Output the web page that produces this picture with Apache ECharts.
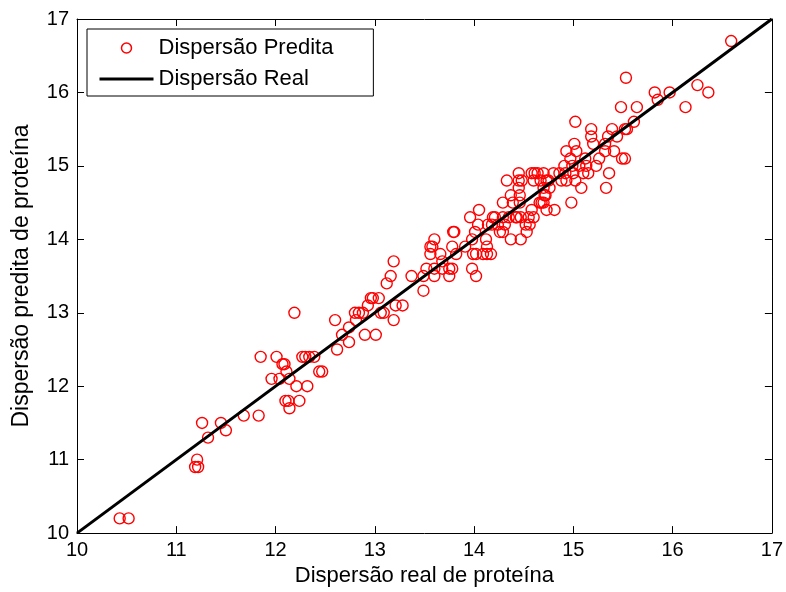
<!DOCTYPE html>
<html>
<head>
<meta charset="utf-8">
<script src="https://cdn.jsdelivr.net/npm/echarts@6/dist/echarts.min.js"></script>
<style>html,body{margin:0;padding:0;background:#fff}#c{width:786px;height:592px}</style>
</head>
<body>
<div id="c"></div>
<script>
// Dispersão real (x) and Dispersão predita (y)
const realX = [
10.43,10.52,11.19,11.22,11.21,11.26,11.32,11.45,11.50,11.68,
11.83,11.85,12.01,12.19,11.96,12.04,12.07,12.09,12.11,12.14,
12.21,12.32,12.10,12.13,12.24,12.14,12.27,12.30,12.34,12.39,
12.44,12.47,12.62,12.60,12.67,12.74,12.74,12.80,12.84,12.88,
12.81,12.90,12.93,12.96,12.98,13.04,13.01,13.06,13.09,13.19,
13.21,13.28,13.12,13.16,13.19,13.37,13.49,13.49,13.52,13.60,
13.60,13.68,13.75,13.75,13.78,13.56,13.58,13.60,13.56,13.66,
13.68,13.78,13.79,13.80,13.82,13.91,13.96,14.05,14.04,14.01,
13.98,13.98,14.02,13.99,14.02,14.09,14.13,14.17,14.12,14.13,
14.19,14.26,14.29,14.37,14.47,14.29,14.39,14.46,14.35,14.42,
14.53,14.24,16.59,15.53,15.82,15.85,15.97,16.25,16.36,16.13,
15.48,15.64,15.02,15.61,15.54,15.52,15.39,15.18,15.18,15.20,
15.35,15.32,15.44,14.93,15.01,15.03,15.41,15.32,15.26,15.49,
15.52,14.97,15.12,14.91,14.99,15.06,15.13,15.23,14.86,14.92,
15.00,15.10,15.15,15.36,15.02,14.93,15.08,15.33,14.98,14.45,
14.58,14.64,14.70,14.80,14.45,14.48,14.60,14.67,14.73,14.33,
14.45,14.70,14.76,14.37,14.46,14.72,14.66,14.70,14.73,14.81,
14.58,14.21,14.29,14.43,14.47,14.56,14.18,14.31,14.55,14.60,
14.52,14.14,14.61,14.88,14.71,14.68,14.75
];
const preditaY = [
10.2,10.2,10.9,10.9,11.0,11.5,11.3,11.5,11.4,11.6,
11.6,12.4,12.4,13.0,12.1,12.1,12.3,12.3,12.2,12.1,
12.0,12.0,11.8,11.8,11.8,11.7,12.4,12.4,12.4,12.4,
12.2,12.2,12.5,12.9,12.7,12.8,12.6,13.0,13.0,13.0,
12.9,12.7,13.1,13.2,13.2,13.2,12.7,13.0,13.0,12.9,
13.1,13.1,13.4,13.5,13.7,13.5,13.3,13.5,13.6,13.5,
13.6,13.6,13.5,13.6,13.6,13.9,13.9,14.0,13.8,13.8,
13.7,13.9,14.1,14.1,13.8,13.9,14.3,14.4,14.2,14.1,
14.0,13.6,13.5,13.8,13.8,13.8,13.8,13.8,14.0,13.9,
14.3,14.1,14.1,14.0,14.0,14.5,14.5,14.5,14.3,14.3,
14.1,14.2,16.7,16.2,16.0,15.9,16.0,16.1,16.0,15.8,
15.8,15.8,15.6,15.6,15.5,15.5,15.5,15.5,15.4,15.3,
15.4,15.3,15.4,15.2,15.3,15.2,15.2,15.2,15.1,15.1,
15.1,15.1,15.1,15.0,15.0,15.0,15.0,15.0,14.9,14.9,
14.9,14.9,14.9,14.9,14.8,14.8,14.7,14.7,14.5,14.9,
14.9,14.9,14.9,14.9,14.8,14.8,14.8,14.8,14.8,14.8,
14.7,14.7,14.7,14.6,14.6,14.6,14.5,14.5,14.4,14.4,
14.4,14.3,14.3,14.3,14.3,14.2,14.2,14.2,14.3,14.3,
14.2,14.2,14.9,14.8,14.6,14.5,14.8
];
// Reference line y = x
const realLineX = [10, 17];
const realLineY = [10, 17];
const axisTicks = [10, 11, 12, 13, 14, 15, 16, 17];

const FONT = 'Liberation Sans, Arial, Helvetica, sans-serif';
const chart = echarts.init(document.getElementById('c'), null, {renderer: 'canvas'});

function baseAxis(extra) {
  return Object.assign({
    type: 'value',
    min: axisTicks[0],
    max: axisTicks[axisTicks.length - 1],
    interval: 1,
    splitLine: {show: false},
    axisLine: {show: true, onZero: false, lineStyle: {color: '#000', width: 1}},
    axisTick: {show: true, inside: true, length: 7, lineStyle: {color: '#000', width: 1}}
  }, extra);
}

chart.setOption({
  animation: false,
  backgroundColor: '#fff',
  textStyle: {fontFamily: FONT},
  grid: {left: 77, top: 19, right: 14, bottom: 52, containLabel: false},
  legend: {
    orient: 'vertical',
    left: 87,
    top: 29,
    padding: [8, 40, 6, 11],
    itemWidth: 54,
    itemHeight: 10,
    itemGap: 9,
    borderColor: '#000',
    borderWidth: 1,
    backgroundColor: '#fff',
    textStyle: {fontSize: 22, color: '#000', fontFamily: FONT, lineHeight: 22},
    data: [
      {name: 'Dispersão Predita', icon: 'circle',
       itemStyle: {color: 'rgba(0,0,0,0)', borderColor: '#ff0000', borderWidth: 1.5}},
      {name: 'Dispersão Real',
       itemStyle: {color: 'rgba(0,0,0,0)', borderColor: 'rgba(0,0,0,0)', borderWidth: 0, opacity: 0},
       lineStyle: {color: '#000', width: 3}}
    ]
  },
  xAxis: [
    baseAxis({
      position: 'bottom',
      name: 'Dispersão real de proteína',
      nameLocation: 'middle',
      nameGap: 28,
      nameTextStyle: {fontSize: 22, color: '#000', fontFamily: FONT},
      axisLabel: {fontSize: 20, color: '#000', margin: 7, fontFamily: FONT}
    }),
    baseAxis({position: 'top', axisLabel: {show: false}})
  ],
  yAxis: [
    baseAxis({
      position: 'left',
      name: 'Dispersão predita de proteína',
      nameLocation: 'middle',
      nameGap: 44,
      nameTextStyle: {fontSize: 23, color: '#000', fontFamily: FONT},
      axisLabel: {fontSize: 20, color: '#000', margin: 8, fontFamily: FONT}
    }),
    baseAxis({position: 'right', axisLabel: {show: false}})
  ],
  series: [
    {
      name: 'Dispersão Predita',
      type: 'scatter',
      xAxisIndex: 0, yAxisIndex: 0,
      symbol: 'circle',
      symbolSize: 11,
      z: 2,
      itemStyle: {color: 'rgba(0,0,0,0)', borderColor: '#ff0000', borderWidth: 1.4, opacity: 1},
      emphasis: {disabled: true},
      data: realX.map((x, i) => [x, preditaY[i]])
    },
    {
      name: 'Dispersão Real',
      type: 'line',
      xAxisIndex: 0, yAxisIndex: 0,
      symbol: 'none',
      z: 3,
      lineStyle: {color: '#000', width: 3},
      emphasis: {disabled: true},
      data: realLineX.map((x, i) => [x, realLineY[i]])
    }
  ]
});
</script>
</body>
</html>
